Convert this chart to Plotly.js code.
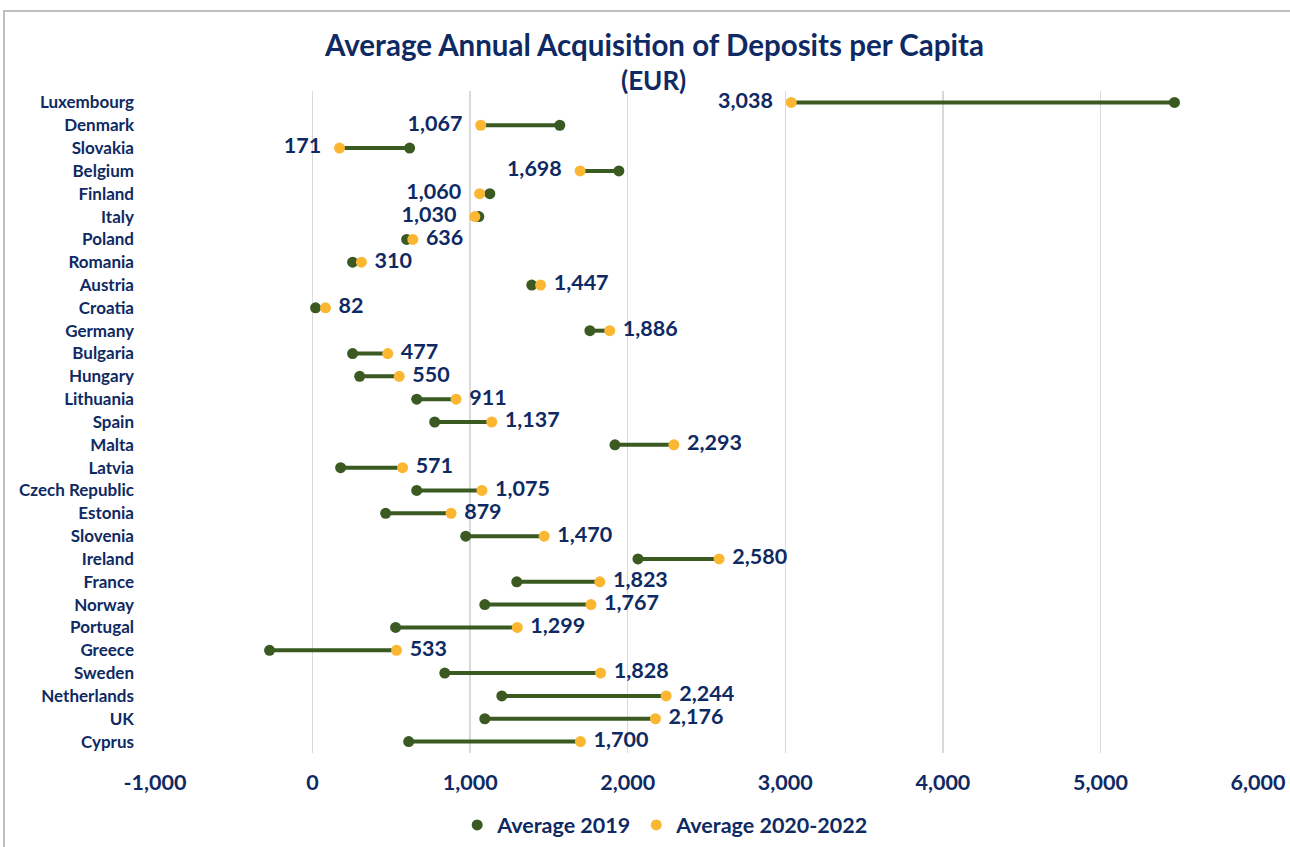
<!DOCTYPE html>
<html><head><meta charset="utf-8">
<script src="https://cdn.plot.ly/plotly-3.0.1.min.js"></script>
<style>
html,body{margin:0;padding:0;background:#fff;}
#frame{position:absolute;left:3px;top:10px;width:1300px;height:860px;border-left:2px solid #BFBFBF;border-top:2px solid #BFBFBF;}
#chart{position:absolute;left:0;top:0;width:1290px;height:847px;}
</style></head>
<body>
<div id="frame"></div>
<div id="chart"></div>
<script>
const countries = ["Luxembourg","Denmark","Slovakia","Belgium","Finland","Italy","Poland","Romania","Austria","Croatia","Germany","Bulgaria","Hungary","Lithuania","Spain","Malta","Latvia","Czech Republic","Estonia","Slovenia","Ireland","France","Norway","Portugal","Greece","Sweden","Netherlands","UK","Cyprus"];
const avg2019 = [5470,1569,616,1944,1125,1055,597,254,1391,19,1760,254,299,661,775,1919,178,661,464,972,2065,1296,1093,527,-273,839,1201,1093,610];
const avg2020_2022 = [3038,1067,171,1698,1060,1030,636,310,1447,82,1886,477,550,911,1137,2293,571,1075,879,1470,2580,1823,1767,1299,533,1828,2244,2176,1700];
const xTicks = [-1000,0,1000,2000,3000,4000,5000,6000];
const xTickLabels = ["-1,000","0","1,000","2,000","3,000","4,000","5,000","6,000"];
const titleText = "Average Annual Acquisition of Deposits per Capita";
const subtitleText = "(EUR)";

const FONT = "Lato, 'Open Sans', sans-serif";
const NAVY = "#0F2A63";
const GREEN = "#3A5A22";
const ORANGE = "#FBB731";

const lx = [], ly = [];
countries.forEach((c,i)=>{ lx.push(avg2019[i], avg2020_2022[i], null); ly.push(c, c, null); });
const fmt = v => v.toLocaleString('en-US');
const isLeft = avg2020_2022.map((v,i)=> v < avg2019[i]);
const labels = avg2020_2022.map((v,i)=> isLeft[i] ? fmt(v)+'\u00a0\u00a0' : '\u00a0'+fmt(v));

const traces = [
  {x: lx, y: ly, mode: 'lines', line:{color:GREEN, width:4}, showlegend:false, hoverinfo:'skip', connectgaps:false},
  {x: avg2019, y: countries, mode:'markers', name:'Average 2019', marker:{color:GREEN, size:11}},
  {x: avg2020_2022, y: countries, mode:'markers+text', name:'Average 2020-2022', marker:{color:ORANGE, size:11},
   text: labels,
   textposition: isLeft.map(l=> l ? 'middle left' : 'middle right'),
   textfont:{family:FONT, size:21.5, color:NAVY, weight:'bold'}}
];

const layout = {
  width:1290, height:847,
  paper_bgcolor:'rgba(0,0,0,0)', plot_bgcolor:'rgba(0,0,0,0)',
  margin:{l:155, r:32, t:91, b:94},
  annotations:[
    {text:titleText, xref:'paper', yref:'paper', x:0.452, y:1.0695, xanchor:'center', yanchor:'middle', showarrow:false,
     font:{family:FONT, size:29.5, color:NAVY, weight:'bold'}},
    {text:subtitleText, xref:'paper', yref:'paper', x:0.452, y:1.0166, xanchor:'center', yanchor:'middle', showarrow:false,
     font:{family:FONT, size:26, color:NAVY, weight:'bold'}}
  ],
  xaxis:{range:[-1000,6000], tickvals:xTicks, ticktext:xTickLabels, showgrid:true, gridcolor:'#D9D9D9', gridwidth:1.5, zeroline:false, showline:false,
    ticklabelstandoff:14, tickfont:{family:FONT, size:21.5, color:NAVY, weight:'bold'}},
  yaxis:{type:'category', categoryorder:'array', categoryarray:countries, range:[countries.length-0.5, -0.5], showgrid:false, zeroline:false, showline:false,
    ticklabelstandoff:20, tickfont:{family:FONT, size:17, color:NAVY, weight:'bold'}},
  legend:{orientation:'h', x:0.463, xanchor:'center', yref:'container', y:0.026, yanchor:'middle', font:{family:FONT, size:21.5, color:NAVY, weight:'bold'}, itemwidth:30, traceorder:'normal'},
  showlegend:true
};
Plotly.newPlot('chart', traces, layout, {displayModeBar:false, staticPlot:true});
</script>
</body></html>
